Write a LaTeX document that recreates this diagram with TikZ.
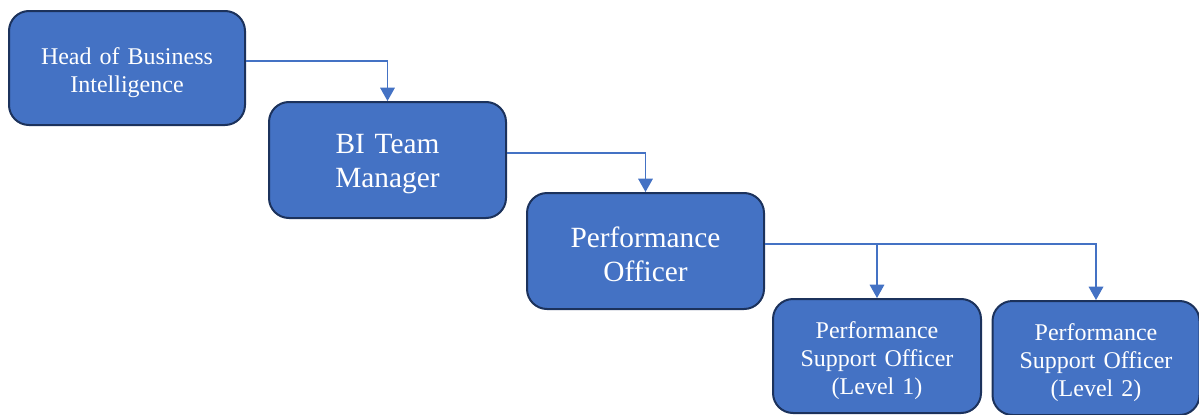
\documentclass[tikz,border=0pt]{standalone}
\usepackage{fontspec}
\setmainfont{Liberation Serif}
\usetikzlibrary{arrows.meta,positioning}
\definecolor{boxfill}{RGB}{68,114,196}
\definecolor{boxline}{RGB}{28,50,92}
\begin{document}
\begin{tikzpicture}[x=0.75pt,y=0.75pt,yscale=-1,xscale=1,
  rolebox/.style={draw=boxline,line width=1.5pt,fill=boxfill,rounded corners=15pt,text=white,align=center,inner sep=0pt},
  bigtext/.style={font=\fontsize{22}{26}\selectfont,text width=170pt,execute at begin node={\rule{0pt}{20.5pt}}},
  smalltext/.style={font=\fontsize{18}{21}\selectfont,text width=150pt,execute at begin node={\rule{0pt}{19.5pt}}},
  link/.style={draw=boxfill,line width=0.9pt,-{Triangle[width=11pt,length=10pt]}}]
\useasboundingbox (0,0) rectangle (1199,414);

%Shape: Head box
\node[rolebox,smalltext,minimum width=177pt,minimum height=85.5pt] (head) at (127,68) {Head of Business\\Intelligence};
%Shape: Manager box
\node[rolebox,bigtext,minimum width=177.75pt,minimum height=87pt] (bi) at (387.5,160) {BI Team\\Manager};
%Shape: Officer box
\node[rolebox,bigtext,minimum width=177.75pt,minimum height=87pt] (po) at (645.5,251) {Performance\\Officer};
%Shape: Support boxes
\node[rolebox,smalltext,minimum width=156pt,minimum height=85.5pt] (pso1) at (877,356) {Performance\\Support Officer\\(Level 1)};
\node[rolebox,smalltext,minimum width=155.25pt,minimum height=85.5pt] (pso2) at (1096,358) {Performance\\Support Officer\\(Level 2)};

% Connectors
\draw[link] ([yshift=-5.25pt]head.east) -| (bi.north);
\draw[link] ([yshift=-5.25pt]bi.east) -| (po.north);
\draw[link] ([yshift=-5.25pt]po.east) -| (pso1.north);
\draw[link] ([yshift=-5.25pt]po.east) -| (pso2.north);

\end{tikzpicture}
\end{document}
